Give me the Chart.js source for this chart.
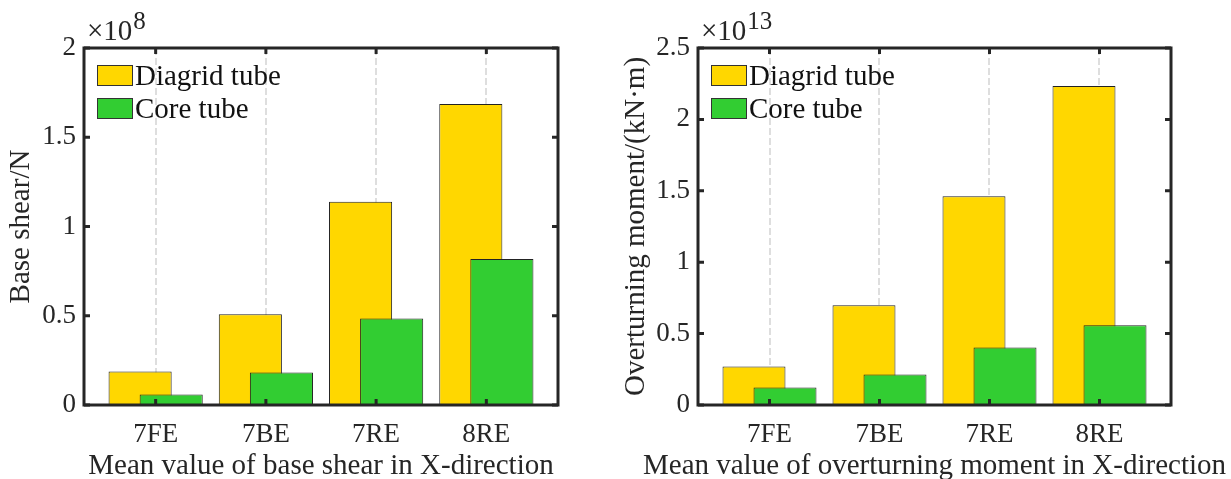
<!DOCTYPE html>
<html><head><meta charset="utf-8">
<script src="https://cdn.jsdelivr.net/npm/chart.js@4.4.1/dist/chart.umd.min.js"></script>
<style>
html,body{margin:0;padding:0;background:#fff;overflow:hidden;}
#wrap{position:relative;width:1231px;height:479px;background:#fff;}
.box{position:absolute;top:0;height:479px;}
#b1{left:0;width:615px;} #b2{left:615px;width:616px;}
canvas{display:block;}
</style></head><body>
<div id="wrap">
  <div class="box" id="b1"><canvas id="c1" width="615" height="479"></canvas></div>
  <div class="box" id="b2"><canvas id="c2" width="616" height="479"></canvas></div>
</div>
<script>
// ---- data ----
const categories = ['7FE', '7BE', '7RE', '8RE'];
const seriesNames = ['Diagrid tube', 'Core tube'];
const shearDiagrid = [0.188, 0.508, 1.138, 1.686];   // x10^8 N
const shearCore    = [0.059, 0.182, 0.485, 0.818];
const momentDiagrid = [0.270, 0.698, 1.462, 2.234];  // x10^13 kN·m
const momentCore    = [0.123, 0.214, 0.403, 0.559];
const shearTicks  = [0, 0.5, 1, 1.5, 2];
const momentTicks = [0, 0.5, 1, 1.5, 2, 2.5];

const FONT = "'Liberation Serif', 'Times New Roman', serif";
const INK = '#262626';
const COLORS = ['#FFD700', '#32CD32'];
const TXT = 29;

function makeChart(id, diag, core, yTicks, exponent, yTitle, xTitle, yWidth, rightPad) {
  const order = {
    id: 'drawOrder',
    beforeDatasetsDraw(chart) {
      // draw Diagrid first, Core on top (as in the reference)
      chart.data.datasets.forEach((ds, i) => chart.getDatasetMeta(i).controller.draw());
      return false;
    }
  };
  const frame = {
    id: 'frame',
    afterDraw(chart) {
      const { ctx, chartArea: a, scales: { x, y } } = chart;
      ctx.save();
      ctx.strokeStyle = INK; ctx.lineWidth = 3;
      ctx.strokeRect(a.left, a.top, a.right - a.left, a.bottom - a.top);
      const L = 6;
      ctx.beginPath();
      x.ticks.forEach(t => {
        const px = x.getPixelForValue(t.value);
        ctx.moveTo(px, a.bottom); ctx.lineTo(px, a.bottom - L);
        ctx.moveTo(px, a.top); ctx.lineTo(px, a.top + L);
      });
      y.ticks.forEach(t => {
        const py = y.getPixelForValue(t.value);
        ctx.moveTo(a.left, py); ctx.lineTo(a.left + L, py);
        ctx.moveTo(a.right, py); ctx.lineTo(a.right - L, py);
      });
      ctx.stroke();
      // legend
      chart.data.datasets.forEach((ds, i) => {
        const sx = a.left + 13, sy = a.top + 17 + i * 33;
        ctx.fillStyle = ds.backgroundColor;
        ctx.fillRect(sx, sy, 36, 21);
        ctx.lineWidth = 1; ctx.strokeStyle = '#333';
        ctx.strokeRect(sx + 0.5, sy + 0.5, 35, 20);
        ctx.fillStyle = '#111';
        ctx.font = `${TXT}px ${FONT}`;
        ctx.textAlign = 'left'; ctx.textBaseline = 'alphabetic';
        ctx.fillText(ds.label, sx + 38, sy + 20);
      });
      // exponent
      ctx.fillStyle = INK;
      ctx.font = `${TXT}px ${FONT}`;
      ctx.textAlign = 'left'; ctx.textBaseline = 'alphabetic';
      const base = '\u00d710';
      ctx.fillText(base, a.left + 3, a.top - 8);
      const w = ctx.measureText(base).width;
      ctx.font = `25px ${FONT}`;
      ctx.fillText(exponent, a.left + 3 + w + 1, a.top - 19);
      // x-axis title (not squeezed to the plot width)
      ctx.font = `${TXT}px ${FONT}`;
      ctx.fillStyle = INK;
      ctx.textAlign = 'center'; ctx.textBaseline = 'middle';
      ctx.fillText(xTitle, (a.left + a.right) / 2, 466.5);
      ctx.restore();
    }
  };
  return new Chart(document.getElementById(id), {
    type: 'bar',
    data: {
      datasets: [
        { label: seriesNames[0], data: diag.map((v, i) => ({ x: i + 1, y: v })),
          backgroundColor: COLORS[0], borderColor: '#222', borderWidth: 1,
          categoryPercentage: 0.564, barPercentage: 2.03 },
        { label: seriesNames[1], data: core.map((v, i) => ({ x: i + 1, y: v })),
          backgroundColor: COLORS[1], borderColor: '#222', borderWidth: 1,
          categoryPercentage: 0.564, barPercentage: 2.03 }
      ]
    },
    options: {
      responsive: false, animation: false, devicePixelRatio: 1,
      layout: { padding: { left: 0, top: 48, right: rightPad, bottom: 0 } },
      plugins: { legend: { display: false }, tooltip: { enabled: false } },
      scales: {
        x: {
          type: 'linear', min: 0.35, max: 4.65, offset: false,
          afterBuildTicks: s => { s.ticks = categories.map((c, i) => ({ value: i + 1 })); },
          ticks: { callback: v => categories[Math.round(v) - 1], font: { family: FONT, size: 27 },
                   color: INK, padding: 14, autoSkip: false, maxRotation: 0 },
          grid: { display: true, offset: false, drawTicks: false, color: '#dedede', lineWidth: 2 },
          border: { display: false, dash: [7, 3] },
          title: { display: false },
          afterFit: s => { s.height = 74; }
        },
        y: {
          min: 0, max: yTicks[yTicks.length - 1],
          afterBuildTicks: s => { s.ticks = yTicks.map(v => ({ value: v })); },
          ticks: { callback: v => String(v), font: { family: FONT, size: 27 }, color: INK, padding: 8 },
          grid: { display: false, drawTicks: false },
          border: { display: false },
          title: { display: true, text: yTitle, font: { family: FONT, size: TXT, lineHeight: 1 },
                   color: INK, padding: { top: 7, bottom: 0 } },
          afterFit: s => { s.width = yWidth; }
        }
      }
    },
    plugins: [order, frame]
  });
}

makeChart('c1', shearDiagrid, shearCore, shearTicks, '8', 'Base shear/N',
          'Mean value of base shear in X-direction', 84, 57);
makeChart('c2', momentDiagrid, momentCore, momentTicks, '13', 'Overturning moment/(kN\u00b7m)',
          'Mean value of overturning moment in X-direction', 83, 60);
</script>
</body></html>
